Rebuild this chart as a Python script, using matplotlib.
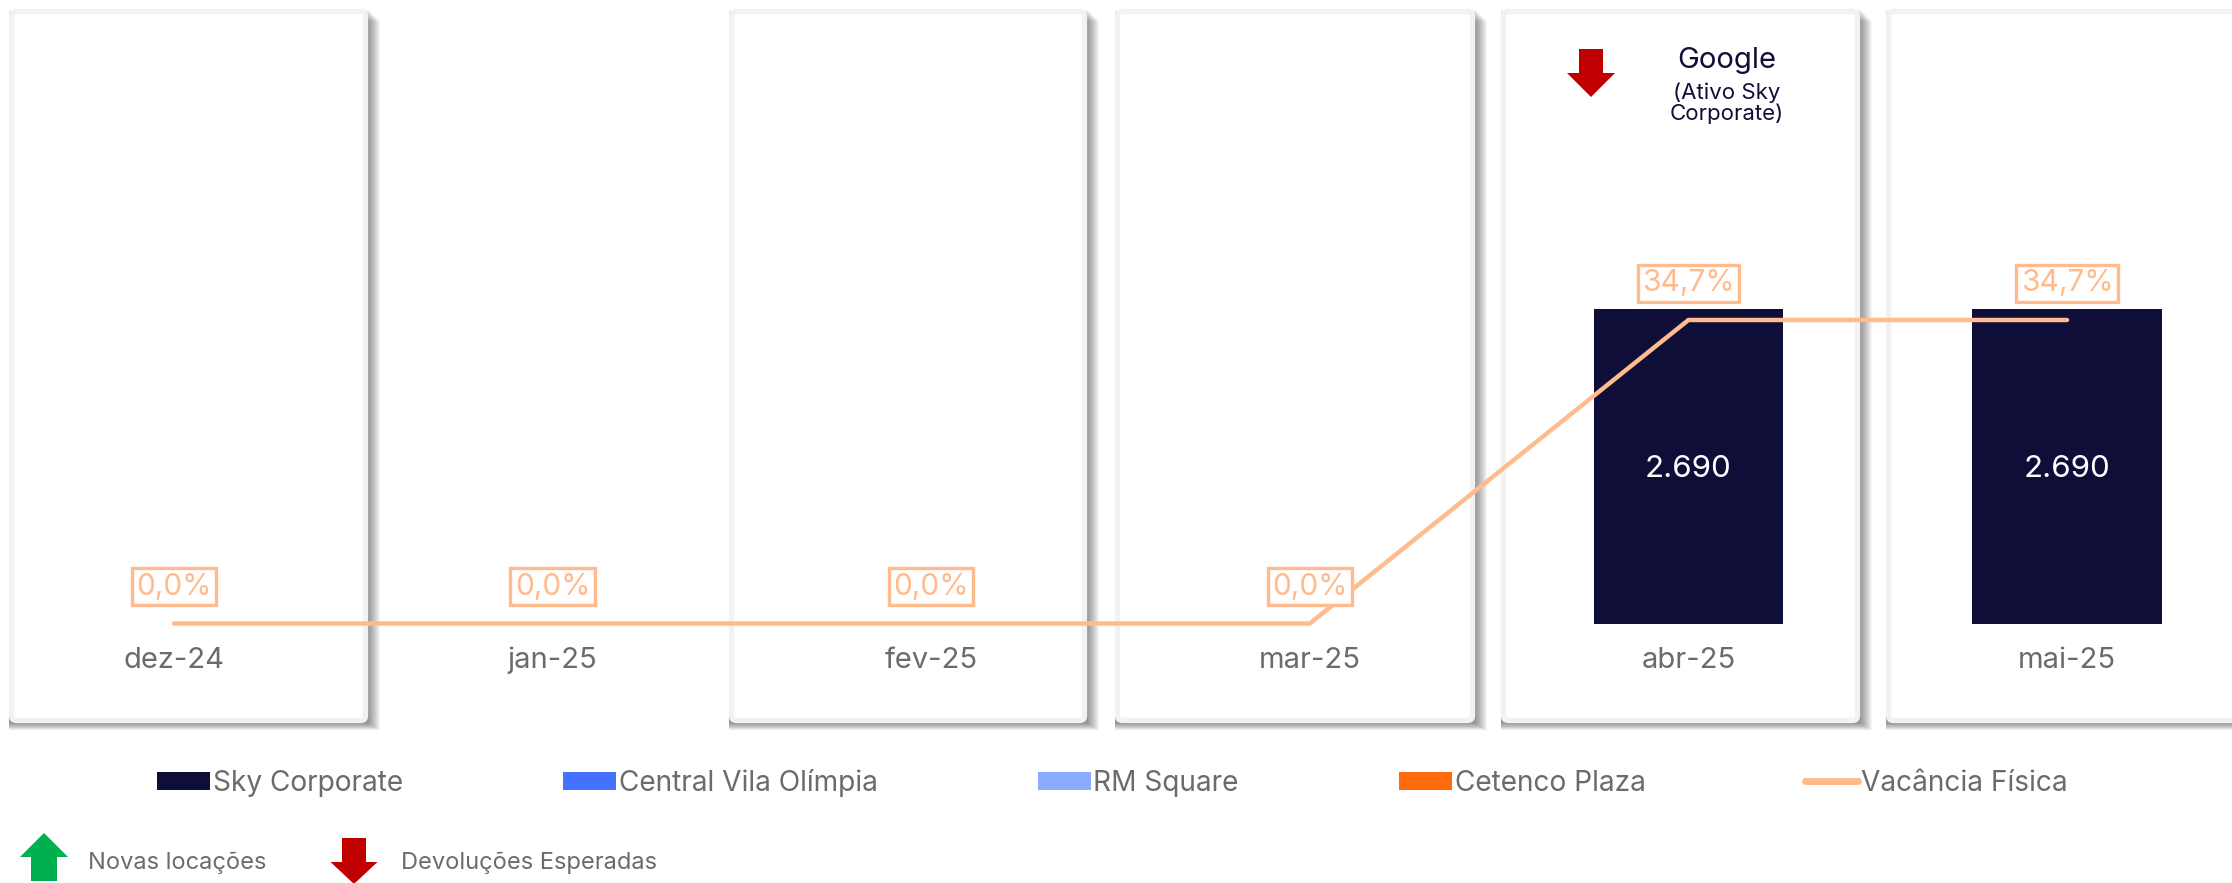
import numpy as np
import matplotlib
matplotlib.use("Agg")
import matplotlib.pyplot as plt
from matplotlib.patches import FancyBboxPatch, Rectangle, Polygon
from matplotlib.lines import Line2D

plt.rcParams['font.family'] = ['Inter', 'DejaVu Sans']

# ---------------- data ----------------
months = ["dez-24", "jan-25", "fev-25", "mar-25", "abr-25", "mai-25"]
sky_corporate = [0, 0, 0, 0, 2690, 2690]
central_vila_olimpia = [0, 0, 0, 0, 0, 0]
rm_square = [0, 0, 0, 0, 0, 0]
cetenco_plaza = [0, 0, 0, 0, 0, 0]
vacancia_fisica = [0.0, 0.0, 0.0, 0.0, 34.7, 34.7]
series_names = ["Sky Corporate", "Central Vila Olímpia", "RM Square", "Cetenco Plaza"]
vac_name = "Vacância Física"
event_title = "Google"
event_sub = "(Ativo Sky\nCorporate)"
bottom_legend = ["Novas locações", "Devoluções Esperadas"]

# ---------------- style ----------------
C_SKY = "#0F0E38"
C_CVO = "#4472FF"
C_RM = "#8AABFF"
C_CET = "#FF6A0A"
C_VAC = "#FFBB8C"
C_TXT = "#6B6B6B"
C_RED = "#C00000"
C_GREEN = "#00B050"

W, H = 2232, 883
fig = plt.figure(figsize=(W / 100, H / 100), dpi=100)
fig.patch.set_facecolor("white")

# background axes in pixel coordinates (decoration)
bg = fig.add_axes([0, 0, 1, 1], zorder=0)
bg.set_xlim(0, W)
bg.set_ylim(H, 0)
bg.axis("off")

panels = [(9, 368), (729, 1087), (1115, 1475), (1501, 1860), (1886, 2250)]
ptop, pbot = 9, 723
for x0, x1 in panels:
    N = 12
    for k in range(1, N + 1):
        bg.add_patch(Rectangle((x0, ptop + k), (x1 - x0) + k, (pbot - ptop) - k * 0.4,
                               facecolor="black", alpha=0.038, edgecolor="none", zorder=1))
    bg.add_patch(FancyBboxPatch((x0 + 2.5, ptop + 2.5), (x1 - x0) - 5, (pbot - ptop) - 5,
                                boxstyle="round,pad=0,rounding_size=5",
                                facecolor="white", edgecolor="#F2F2F2", linewidth=3.8, zorder=2))

def arrow(ax, xc, y_top, y_bot, head_w, shaft_w, head_len, up, color):
    if up:
        pts = [(xc, y_top), (xc + head_w / 2, y_top + head_len), (xc + shaft_w / 2, y_top + head_len),
               (xc + shaft_w / 2, y_bot), (xc - shaft_w / 2, y_bot), (xc - shaft_w / 2, y_top + head_len),
               (xc - head_w / 2, y_top + head_len)]
    else:
        pts = [(xc, y_bot), (xc + head_w / 2, y_bot - head_len), (xc + shaft_w / 2, y_bot - head_len),
               (xc + shaft_w / 2, y_top), (xc - shaft_w / 2, y_top), (xc - shaft_w / 2, y_bot - head_len),
               (xc - head_w / 2, y_bot - head_len)]
    ax.add_patch(Polygon(pts, closed=True, facecolor=color, edgecolor="none", zorder=5))

# event annotation (Google)
arrow(bg, 1591, 49, 97, 48, 24, 24, False, C_RED)
bg.text(1727, 61, event_title, fontsize=21, color=C_SKY, ha="center", va="center", zorder=6)
bg.text(1727, 103, event_sub, fontsize=16, color=C_SKY, ha="center", va="center",
        linespacing=1.02, zorder=6)

# bottom legend (arrows)
arrow(bg, 44, 833, 881, 48, 26, 24, True, C_GREEN)
bg.text(88, 863, bottom_legend[0], fontsize=17, color=C_TXT, ha="left", va="center", zorder=6)
arrow(bg, 354, 838, 884, 47, 24, 22, False, C_RED)
bg.text(401, 863, bottom_legend[1], fontsize=17, color=C_TXT, ha="left", va="center", zorder=6)

# ---------------- main chart ----------------
x0px, step = 174.0, 378.6          # px of first category, px per category
ax_top, ax_bot, zero_px = 0.0, 700.0, 623.5
bar_px_per_unit = 315.0 / 2690.0
vac_px_per_unit = 303.5 / 34.7

ax = fig.add_axes([0, 1 - ax_bot / H, 1, (ax_bot - ax_top) / H], zorder=3)
ax.set_facecolor("none")
ax.set_xlim(-x0px / step, (W - x0px) / step)
ax.set_ylim(-(ax_bot - zero_px) / bar_px_per_unit, (zero_px - ax_top) / bar_px_per_unit)
ax.axis("off")

x = np.arange(len(months))
bw = 0.5
colors = [C_SKY, C_CVO, C_RM, C_CET]
values = [sky_corporate, central_vila_olimpia, rm_square, cetenco_plaza]
bottom = np.zeros(len(months))
containers = []
for vals, col, name in zip(values, colors, series_names):
    bc = ax.bar(x, vals, bw, bottom=bottom, color=col, edgecolor="none", label=name, zorder=2)
    containers.append(bc)
    bottom = bottom + np.array(vals)

def fmt_br(v):
    return f"{v:,.0f}".replace(",", ".")

ax.bar_label(containers[0], labels=[fmt_br(v) if v > 0 else "" for v in sky_corporate],
             label_type="center", color="white", fontsize=22.5, padding=-2)

# month labels
for xi, m in zip(x, months):
    ax.text(xi, -(660 - zero_px) / bar_px_per_unit, m, ha="center", va="center",
            fontsize=21, color=C_TXT)

ax2 = ax.twinx()
ax2.set_ylim(-(ax_bot - zero_px) / vac_px_per_unit, (zero_px - ax_top) / vac_px_per_unit)
ax2.axis("off")
line, = ax2.plot(x, vacancia_fisica, color=C_VAC, lw=3.2, solid_capstyle="round",
                 solid_joinstyle="miter", label=vac_name, zorder=4)
for xi, v in zip(x, vacancia_fisica):
    ax2.annotate(f"{v:.1f}%".replace(".", ","), (xi, v), xytext=(0, 26.5),
                 textcoords="offset points", ha="center", va="center",
                 fontsize=21.5, color=C_VAC,
                 bbox=dict(boxstyle="square,pad=0.15", facecolor="white",
                           edgecolor=C_VAC, linewidth=2.4), zorder=5)

# legend
vac_handle = Line2D([0], [0], color=C_VAC, lw=5, solid_capstyle="round")
fs = 20.2
fpx = fs * 100 / 72
leg = fig.legend(containers + [vac_handle], series_names + [vac_name],
                 loc="center left", bbox_to_anchor=(157 / W, 1 - 783 / H), ncol=5,
                 frameon=False, fontsize=fs, handlelength=53 / fpx, handleheight=18 / fpx,
                 handletextpad=0.1, columnspacing=160 / fpx, borderpad=0, borderaxespad=0)
for t in leg.get_texts():
    t.set_color(C_TXT)

fig.savefig("out.png", dpi=100, facecolor="white")
